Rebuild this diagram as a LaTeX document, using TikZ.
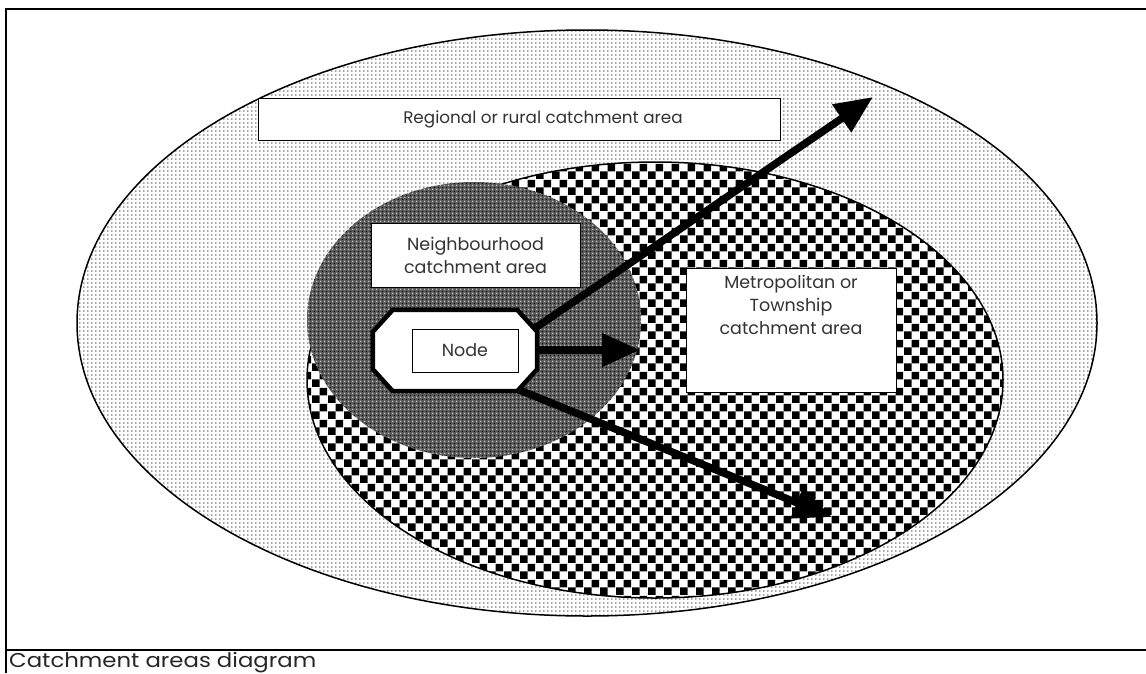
\documentclass[tikz,border=0pt]{standalone}
\usepackage{fontspec}
\setmainfont{Poppins}
\newfontfamily\capfont{Poppins}[FakeStretch=1.14]
\usetikzlibrary{patterns,patterns.meta,arrows.meta}
\tikzdeclarepattern{name=sdots,type=uncolored,
  bounding box={(0pt,0pt) and (4.4pt,4.4pt)},tile size={(4.4pt,4.4pt)},
  code={\fill (2.2pt,2.2pt) circle (0.85pt);}}
\tikzdeclarepattern{name=checker,type=uncolored,
  bounding box={(0pt,0pt) and (15.6pt,15.6pt)},tile size={(15.6pt,15.6pt)},
  code={\fill (0pt,0pt) rectangle (7.8pt,7.8pt); \fill (7.8pt,7.8pt) rectangle (15.6pt,15.6pt);}}
\tikzdeclarepattern{name=wdots,type=uncolored,
  bounding box={(0pt,0pt) and (4pt,4pt)},tile size={(4pt,4pt)},
  code={\fill (1pt,1pt) circle (0.8pt);}}
\tikzdeclarepattern{name=bdots,type=uncolored,
  bounding box={(0pt,0pt) and (4pt,4pt)},tile size={(4pt,4pt)},
  code={\fill (3pt,3pt) circle (0.9pt);}}
\tikzset{
  frameline/.style={line width=2pt},
  labelbox/.style={draw, line width=1pt, fill=white, inner sep=0pt, align=center, font=\fontsize{17.5}{23}\selectfont, text=black!80},
  bigarrow/.style={line width=7.5pt, -{Triangle[length=38pt,width=32pt]}},
  octline/.style={line width=4.5pt, fill=white, line join=miter},
}
\begin{document}
\begin{tikzpicture}[x=1pt,y=-1pt]
\useasboundingbox (0,0) rectangle (1146,673);
% frame
\draw[frameline] (6,673) -- (6,9) -- (1146,9);
\draw[frameline] (6,650) -- (1146,650);
\node[anchor=base west, inner sep=0pt, font=\capfont\fontsize{20}{22}\selectfont, text=black!85] (caption) at (9,667) {Catchment areas diagram};
% regional ellipse
\fill[white] (587,323) ellipse [x radius=510, y radius=293];
\fill[pattern=sdots, pattern color=black!75] (587,323) ellipse [x radius=510, y radius=293];
\draw[line width=1.5pt] (587,323) ellipse [x radius=510, y radius=293];
% metropolitan ellipse
\fill[white] (655,380) ellipse [x radius=348, y radius=218];
\fill[pattern=checker, pattern color=black] (655,380) ellipse [x radius=348, y radius=218];
\draw[line width=1.5pt] (655,380) ellipse [x radius=348, y radius=218];
% neighbourhood circle
\fill[black!64] (474,320) ellipse [x radius=167, y radius=138];
\fill[pattern=wdots, pattern color=white!90!black] (474,320) ellipse [x radius=167, y radius=138];
\fill[pattern=bdots, pattern color=black] (474,320) ellipse [x radius=167, y radius=138];
% labels
\node[labelbox, minimum width=522, minimum height=42] (regional) at (519,119) {};
\node[anchor=center, inner sep=0pt, font=\fontsize{16.8}{23}\selectfont, text=black!80] (regionaltext) at ([xshift=24]regional.center) {Regional or rural catchment area};
\node[labelbox, minimum width=209, minimum height=64] (neigh) at (475.5,255) {Neighbourhood\\catchment area};
\node[labelbox, minimum width=210, minimum height=124, anchor=north] (metro) at (791,268) {};
\node[anchor=north, align=center, inner sep=0pt, font=\fontsize{17.5}{23}\selectfont, text=black!80] (metrotext) at ([yshift=-7]metro.north) {Metropolitan or\\Township\\catchment area};
% arrows
\coordinate (t1) at (873,97);
\coordinate (t2) at (640,350);
\coordinate (t3) at (832,517);
\coordinate (s1) at (525,335);
\coordinate (s2) at (530,350);
\coordinate (s3) at (512,387);
\draw[bigarrow] (s1) -- (t1);
\draw[bigarrow] (s2) -- (t2);
\draw[bigarrow] (s3) -- (t3);
% node octagon
\node[minimum width=164, minimum height=81, inner sep=0pt] (oct) at (455,350.5) {};
\draw[octline] ([xshift=20]oct.north west) -- ([xshift=-20]oct.north east)
  -- ([yshift=-22]oct.north east) -- ([yshift=22]oct.south east)
  -- ([xshift=-20]oct.south east) -- ([xshift=20]oct.south west)
  -- ([yshift=22]oct.south west) -- ([yshift=-22]oct.north west) -- cycle;
\node[labelbox, minimum width=106, minimum height=43] (node) at (465,350.5) {Node};
\end{tikzpicture}
\end{document}
